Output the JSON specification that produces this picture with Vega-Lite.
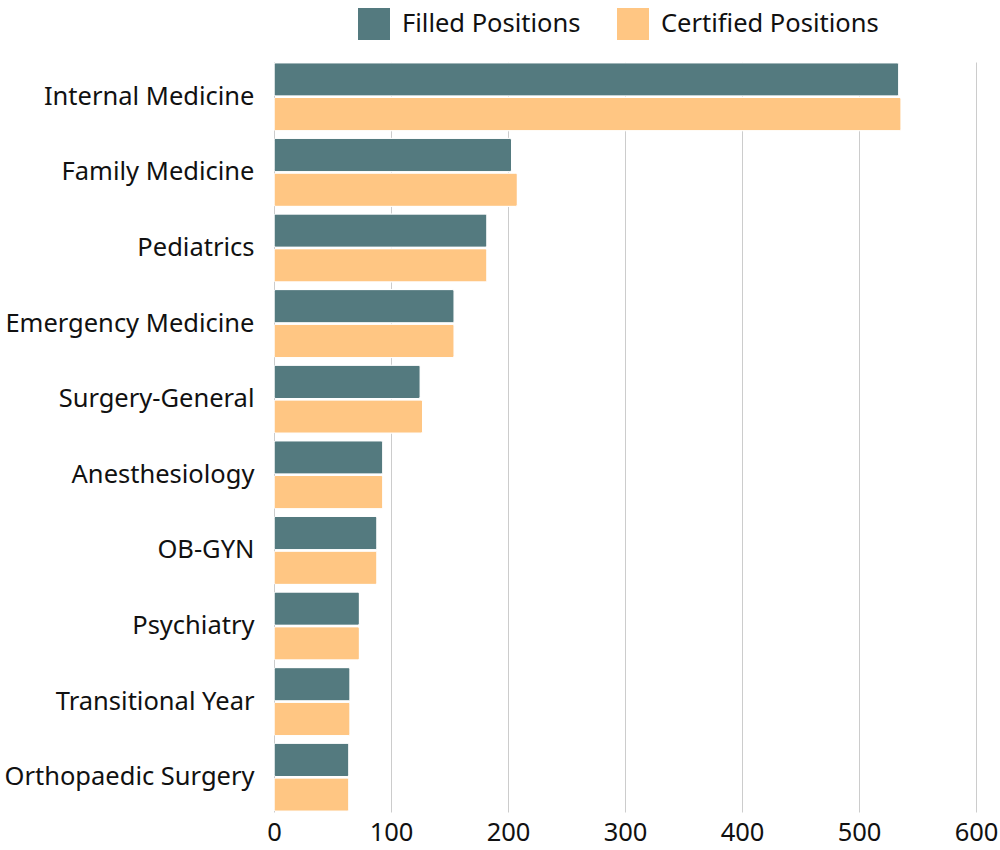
{
  "$schema": "https://vega.github.io/schema/vega-lite/v6.json",
  "autosize": {"type": "none"},
  "width": 702,
  "height": 750,
  "padding": {"left": 274, "top": 62, "right": 24, "bottom": 38},
  "background": "white",
  "config": {
    "font": "Noto Sans",
    "view": {"stroke": null}
  },
  "data": {
    "values": [
      {"specialty": "Internal Medicine", "type": "Filled Positions", "value": 534},
      {"specialty": "Internal Medicine", "type": "Certified Positions", "value": 536},
      {"specialty": "Family Medicine", "type": "Filled Positions", "value": 203},
      {"specialty": "Family Medicine", "type": "Certified Positions", "value": 208},
      {"specialty": "Pediatrics", "type": "Filled Positions", "value": 182},
      {"specialty": "Pediatrics", "type": "Certified Positions", "value": 182},
      {"specialty": "Emergency Medicine", "type": "Filled Positions", "value": 154},
      {"specialty": "Emergency Medicine", "type": "Certified Positions", "value": 154},
      {"specialty": "Surgery-General", "type": "Filled Positions", "value": 125},
      {"specialty": "Surgery-General", "type": "Certified Positions", "value": 127},
      {"specialty": "Anesthesiology", "type": "Filled Positions", "value": 93},
      {"specialty": "Anesthesiology", "type": "Certified Positions", "value": 93},
      {"specialty": "OB-GYN", "type": "Filled Positions", "value": 88},
      {"specialty": "OB-GYN", "type": "Certified Positions", "value": 88},
      {"specialty": "Psychiatry", "type": "Filled Positions", "value": 73},
      {"specialty": "Psychiatry", "type": "Certified Positions", "value": 73},
      {"specialty": "Transitional Year", "type": "Filled Positions", "value": 65},
      {"specialty": "Transitional Year", "type": "Certified Positions", "value": 65},
      {"specialty": "Orthopaedic Surgery", "type": "Filled Positions", "value": 64},
      {"specialty": "Orthopaedic Surgery", "type": "Certified Positions", "value": 64}
    ]
  },
  "mark": {"type": "bar", "cornerRadius": 2, "stroke": "white", "strokeWidth": 1},
  "encoding": {
    "y": {
      "field": "specialty",
      "type": "nominal",
      "sort": null,
      "scale": {"paddingInner": 0.1, "paddingOuter": 0.01},
      "axis": {
        "title": null,
        "ticks": false,
        "domain": false,
        "labelFontSize": 25.5,
        "labelColor": "#111111",
        "labelPadding": 20,
        "labelLimit": 400
      }
    },
    "yOffset": {
      "field": "type",
      "type": "nominal",
      "sort": ["Filled Positions", "Certified Positions"],
      "scale": {"paddingInner": 0.04}
    },
    "x": {
      "field": "value",
      "type": "quantitative",
      "scale": {"domain": [0, 600], "nice": false},
      "axis": {
        "title": null,
        "values": [0, 100, 200, 300, 400, 500, 600],
        "ticks": false,
        "domain": false,
        "grid": true,
        "gridColor": "#cccccc",
        "gridWidth": 1,
        "labelFontSize": 25.5,
        "labelColor": "#111111",
        "labelPadding": 8,
        "labelFlush": false
      }
    },
    "color": {
      "field": "type",
      "type": "nominal",
      "sort": ["Filled Positions", "Certified Positions"],
      "scale": {"domain": ["Filled Positions", "Certified Positions"], "range": ["#547a7f", "#ffc683"]},
      "legend": {
        "title": null,
        "orient": "none",
        "legendX": 84,
        "legendY": -54,
        "direction": "horizontal",
        "symbolType": "square",
        "symbolSize": 1024,
        "symbolStrokeWidth": 0,
        "labelFontSize": 25.5,
        "labelColor": "#111111",
        "labelOffset": 12,
        "columnPadding": 36,
        "labelLimit": 400
      }
    }
  }
}
